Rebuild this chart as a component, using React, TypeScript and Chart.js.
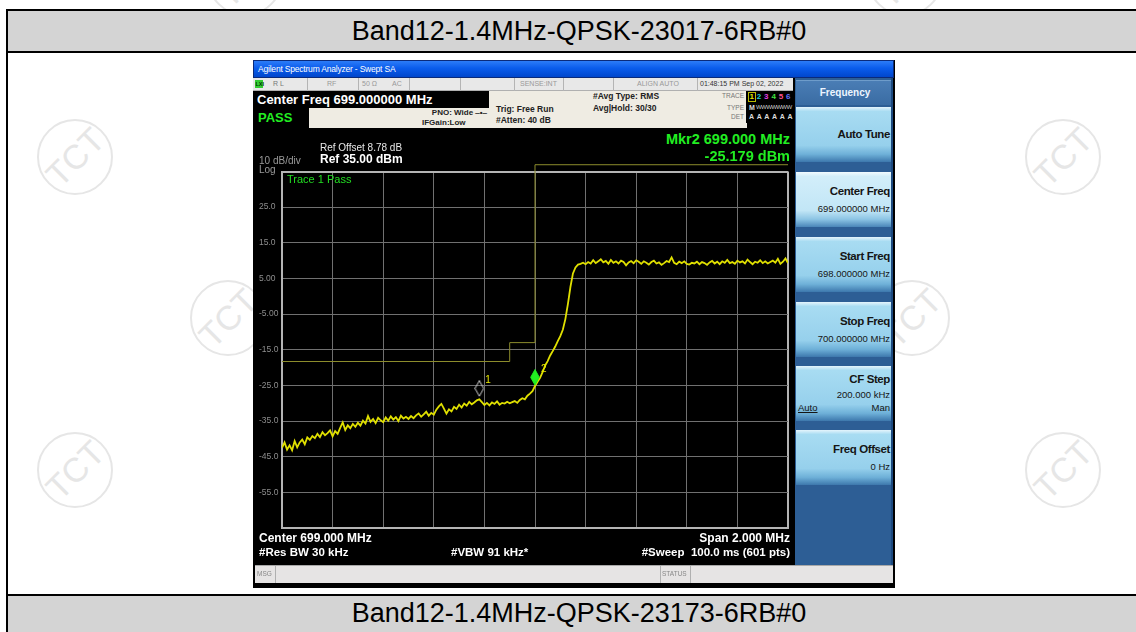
import React, { useEffect, useRef } from "react";
import { Chart, registerables } from "chart.js";

Chart.register(...registerables);

const FONT = '"Liberation Sans", Arial, Helvetica, sans-serif';

// ---- sweep settings ----
const startFreqMHz = 698.0;
const stopFreqMHz = 700.0;
const traceStepMHz = 0.01;
const refLevelDbm = 35;
const bottomLevelDbm = -65;
const dbPerDiv = 10;
const freqPerDivMHz = 0.2;

// ---- trace 1 (dBm), one value per 10 kHz ----
const traceDbm = [
  -42.5, -41.0, -43.0, -41.8, -43.2, -40.6, -42.4, -41.0, -40.2, -41.5,
  -39.6, -40.3, -39.2, -39.8, -38.6, -39.5, -38.1, -39.0, -38.4, -37.6,
  -39.3, -37.8, -38.6, -36.9, -35.4, -37.5, -36.2, -37.0, -35.8, -36.6,
  -35.5, -36.3, -34.9, -35.7, -33.6, -35.2, -34.4, -35.6, -34.1, -34.8,
  -35.3, -34.0, -34.9, -33.7, -34.6, -33.9, -35.0, -33.5, -34.3, -33.8,
  -34.4, -33.6, -34.2, -33.4, -32.9, -33.8, -33.1, -32.4, -33.5, -32.7,
  -33.2, -31.8, -30.9, -30.2, -31.5, -32.9, -31.7, -32.3, -31.0, -31.6,
  -30.4, -31.2, -30.1, -30.7, -29.6, -30.3, -29.8, -29.2, -28.9, -29.7,
  -30.5, -29.9, -30.6, -29.8, -30.2, -29.5, -30.4, -29.9, -30.1, -29.6,
  -30.0, -29.7, -29.4, -29.9, -29.1, -28.6, -28.9, -27.9, -27.3, -26.6,
  -25.18, -24.0, -22.9, -21.3, -19.4, -18.2, -16.6, -15.4, -14.1, -12.6,
  -11.2, -9.4, -6.4, -2.2, 2.6, 6.4, 8.1, 8.9, 9.1, 9.4,
  9.0, 9.6, 9.2, 10.1, 9.3, 9.8, 10.4, 9.5, 9.9, 9.1,
  10.2, 9.4, 9.8, 9.2, 10.0, 9.6, 8.7, 9.5, 9.9, 9.3,
  10.1, 9.7, 9.1, 9.8, 9.4, 8.9, 9.6, 10.0, 9.2, 9.5,
  8.8, 9.3, 9.9, 9.6, 10.9, 9.4, 9.0, 9.7, 9.3, 9.8,
  9.1, 8.9, 9.4, 9.2, 9.7, 9.0, 9.6, 9.3, 8.8, 9.5,
  9.9, 9.2, 9.7, 9.0, 9.8, 9.4, 10.2, 9.3, 9.6, 9.1,
  10.0, 9.5, 9.8, 9.2, 10.3, 9.6, 9.0, 9.7, 9.4, 10.1,
  9.3, 9.8, 9.2, 9.6, 10.0, 9.4, 10.5, 9.1, 9.7, 10.6,
  9.3,
];

// ---- limit line ----
const limitFreqMHz = [698.0, 698.9, 698.9, 699.0, 699.0, 700.0];
const limitDbm = [-18.3, -18.3, -13.0, -13.0, 36.9, 36.9];

// ---- markers ----
const markerFreqMHz = [698.78, 699.0];
const markerDbm = [-28.3, -25.179];
const markerLabels = ["1", "2"];

// ---- y tick labels ----
const yTickValues = [25, 15, 5, -5, -15, -25, -35, -45, -55];
const yTickLabels = ["25.0", "15.0", "5.00", "-5.00", "-15.0", "-25.0", "-35.0", "-45.0", "-55.0"];

function makeDiamond(fill: string | null, stroke: string) {
  const c = document.createElement("canvas");
  c.width = 10;
  c.height = 34;
  const g = c.getContext("2d")!;
  g.beginPath();
  g.moveTo(5, 0.5);
  g.lineTo(9.3, 8.3);
  g.lineTo(5, 16);
  g.lineTo(0.7, 8.3);
  g.closePath();
  if (fill) {
    g.fillStyle = fill;
    g.fill();
  }
  g.strokeStyle = stroke;
  g.lineWidth = 1;
  g.stroke();
  return c;
}

function SpectrumChart() {
  const ref = useRef<HTMLCanvasElement>(null);
  useEffect(() => {
    const canvas = ref.current!;
    const tracePts = traceDbm.map((v, i) => ({
      x: +(startFreqMHz + i * traceStepMHz).toFixed(2),
      y: v,
    }));
    const limitPts = limitFreqMHz.map((f, i) => ({ x: f, y: limitDbm[i] }));
    const markerPts = markerFreqMHz.map((f, i) => ({ x: f, y: markerDbm[i] }));
    const diamonds = [makeDiamond(null, "#d0d0d0"), makeDiamond("#22ee22", "#22ee22")];

    const labelPlugin = {
      id: "markerLabels",
      afterDatasetsDraw(chart: any) {
        const meta = chart.getDatasetMeta(2);
        const ctx = chart.ctx;
        ctx.save();
        ctx.fillStyle = "#e8e800";
        ctx.font = `10px ${FONT}`;
        ctx.textAlign = "left";
        ctx.textBaseline = "middle";
        meta.data.forEach((pt: any, i: number) => {
          ctx.fillText(markerLabels[i], pt.x + 6, pt.y - 17);
        });
        ctx.restore();
      },
    };

    const frame = "#b4b4b4";
    const gridC = "#707070";

    const chart = new Chart(canvas, {
      type: "line",
      data: {
        datasets: [
          {
            label: "Limit",
            data: limitPts,
            borderColor: "#8c8c2c",
            borderWidth: 1,
            pointRadius: 0,
            clip: false as any,
            order: 3,
          },
          {
            label: "Trace 1",
            data: tracePts,
            borderColor: "#e0e000",
            borderWidth: 1.8,
            pointRadius: 0,
            order: 2,
          },
          {
            label: "Markers",
            data: markerPts,
            showLine: false,
            pointRadius: 5,
            pointStyle: ((ctx: any) => diamonds[ctx.dataIndex]) as any,
            order: 1,
          },
        ],
      },
      options: {
        responsive: false,
        animation: false,
        events: [],
        devicePixelRatio: 1,
        layout: { padding: { left: 5, top: 11.5, right: 3, bottom: 8 } },
        plugins: { legend: { display: false }, tooltip: { enabled: false } },
        scales: {
          x: {
            type: "linear",
            min: startFreqMHz,
            max: stopFreqMHz,
            ticks: { display: false, stepSize: freqPerDivMHz },
            grid: {
              drawTicks: false,
              color: (c: any) => (Math.abs(c.tick.value - stopFreqMHz) < 1e-6 ? frame : gridC),
              lineWidth: (c: any) => (Math.abs(c.tick.value - stopFreqMHz) < 1e-6 ? 2 : 1),
            },
            border: { color: frame, width: 2 },
            afterFit: (s: any) => {
              s.height = 0;
            },
          },
          y: {
            type: "linear",
            min: bottomLevelDbm,
            max: refLevelDbm,
            ticks: {
              stepSize: dbPerDiv,
              color: "#8e8e8e",
              font: { size: 8.5, family: FONT },
              crossAlign: "far",
              padding: 0,
              callback: (v: any) => {
                const k = yTickValues.indexOf(Math.round(Number(v)));
                return k >= 0 ? yTickLabels[k] : "";
              },
            },
            grid: {
              drawTicks: false,
              color: (c: any) => (c.tick.value === refLevelDbm ? frame : gridC),
              lineWidth: (c: any) => (c.tick.value === refLevelDbm ? 2 : 1),
            },
            border: { color: frame, width: 2 },
            afterFit: (s: any) => {
              s.width = 23;
            },
          },
        },
      },
      plugins: [labelPlugin],
    } as any);
    return () => chart.destroy();
  }, []);
  return (
    <canvas
      ref={ref}
      width={540}
      height={376}
      style={{ position: "absolute", left: 254, top: 160, width: 540, height: 376 }}
    />
  );
}

function T(props: any) {
  const { x, y, s, c = "#fff", b = false, a = "left", ls, children, u } = props;
  const style: any = {
    position: "absolute",
    top: y - s * 0.6,
    lineHeight: `${s * 1.2}px`,
    fontSize: s,
    color: c,
    fontWeight: b ? "bold" : "normal",
    whiteSpace: "nowrap",
    fontFamily: FONT,
    letterSpacing: ls,
    textDecoration: u ? "underline" : "none",
  };
  if (a === "left") style.left = x;
  else if (a === "right") style.right = 1136 - x;
  else {
    style.left = x;
    style.transform = "translateX(-50%)";
  }
  return <div style={style}>{children}</div>;
}

function Box(props: any) {
  const { x, y, w, h, bg, style } = props;
  return <div style={{ position: "absolute", left: x, top: y, width: w, height: h, background: bg, ...style }} />;
}

const watermarkCenters = [
  [75, 157],
  [75, 470],
  [1063, 157],
  [1063, 470],
  [228, 318],
  [912, 318],
  [245, -22],
  [905, -22],
];

function Watermark({ cx, cy }: any) {
  return (
    <div
      style={{
        position: "absolute",
        left: cx - 38,
        top: cy - 38,
        width: 76,
        height: 76,
        borderRadius: "50%",
        border: "2.5px solid #e6e6e6",
        boxSizing: "border-box",
        display: "flex",
        alignItems: "center",
        justifyContent: "center",
      }}
    >
      <div style={{ transform: "rotate(-45deg)", fontSize: 34, color: "#e6e6e6", fontFamily: FONT, lineHeight: "34px" }}>
        TCT
      </div>
    </div>
  );
}

const softkeys = [
  { top: 107, title: "Auto Tune", sub: "", hi: false },
  { top: 172, title: "Center Freq", sub: "699.000000 MHz", hi: true },
  { top: 237, title: "Start Freq", sub: "698.000000 MHz", hi: false },
  { top: 302, title: "Stop Freq", sub: "700.000000 MHz", hi: false },
  { top: 366, title: "CF Step", sub: "200.000 kHz", hi: false },
  { top: 430, title: "Freq Offset", sub: "0 Hz", hi: false },
];

export default function App() {
  const statusDividers = [307, 358, 409, 460, 514, 563, 613, 697];
  const traceNums = [
    ["1", "#e8e800"],
    ["2", "#20d0d0"],
    ["3", "#e040e0"],
    ["4", "#40e040"],
    ["5", "#ff5090"],
    ["6", "#6070ff"],
  ];
  return (
    <div
      style={{
        position: "absolute",
        left: 0,
        top: 0,
        width: 1136,
        height: 632,
        overflow: "hidden",
        background: "#fff",
        fontFamily: FONT,
      }}
    >
      {watermarkCenters.map(([cx, cy], i) => (
        <Watermark key={i} cx={cx} cy={cy} />
      ))}

      {/* document table */}
      <Box x={6} y={9} w={1200} h={2} bg="#000" />
      <Box x={6} y={9} w={2} h={700} bg="#000" />
      <Box x={8} y={11} w={1200} h={40} bg="#d4d4d4" />
      <Box x={8} y={51} w={1200} h={2} bg="#000" />
      <Box x={8} y={594} w={1200} h={2} bg="#000" />
      <Box x={8} y={596} w={1200} h={40} bg="#d4d4d4" />
      <div
        style={{
          position: "absolute",
          left: 8,
          top: 11,
          width: 1142,
          height: 40,
          display: "flex",
          alignItems: "center",
          justifyContent: "center",
          fontSize: 27,
          color: "#000",
        }}
      >
        Band12-1.4MHz-QPSK-23017-6RB#0
      </div>
      <div
        style={{
          position: "absolute",
          left: 8,
          top: 596,
          width: 1142,
          height: 35,
          display: "flex",
          alignItems: "center",
          justifyContent: "center",
          fontSize: 27,
          color: "#000",
        }}
      >
        Band12-1.4MHz-QPSK-23173-6RB#0
      </div>

      {/* analyzer screen */}
      <Box x={253} y={60} w={642} h={528} bg="#000" />
      {/* title bar */}
      <Box
        x={253}
        y={60}
        w={641}
        h={18}
        bg="linear-gradient(#2c7cf8, #0a5cec 45%, #0046cc)"
        style={{ border: "1px solid #0a2a7a", boxSizing: "border-box" }}
      />
      <T x={258} y={69.5} s={8.5} c="#ffffff" ls={-0.2}>
        Agilent Spectrum Analyzer - Swept SA
      </T>

      {/* status row */}
      <Box x={253} y={78} w={540} h={13} bg="#e8e8e8" style={{ borderBottom: "1px solid #b0b0b0", boxSizing: "border-box" }} />
      {statusDividers.map((x) => (
        <Box key={x} x={x} y={78} w={1} h={13} bg="#b4b4b4" />
      ))}
      <Box x={255} y={80} w={8} h={8} bg="#33cc33" />
      <T x={255.5} y={84} s={5.5} c="#003300" b>
        LXI
      </T>
      <T x={273} y={84.5} s={7} c="#777">R L</T>
      <T x={327} y={84.5} s={7} c="#999">RF</T>
      <T x={362} y={84.5} s={7} c="#999">50 Ω</T>
      <T x={392} y={84.5} s={7} c="#999">AC</T>
      <T x={520} y={84.5} s={7} c="#999">SENSE:INT</T>
      <T x={637} y={84.5} s={7} c="#999">ALIGN AUTO</T>
      <T x={700} y={84.5} s={7} c="#333">01:48:15 PM Sep 02, 2022</T>

      {/* info area */}
      <Box x={253} y={91} w={494} h={37} bg="#efece3" />
      <Box x={253} y={91} w={236} h={17} bg="#000" />
      <T x={257} y={99.5} s={13} b c="#ffffff">
        Center Freq 699.000000 MHz
      </T>
      <Box x={253} y={108} w={56} h={20} bg="#000" />
      <T x={258} y={118} s={13} b c="#22ee22">
        PASS
      </T>
      <T x={487} y={112.5} s={8} b c="#222" a="right">
        PNO: Wide ‒•‒
      </T>
      <T x={422} y={122.5} s={8} b c="#222">
        IFGain:Low
      </T>
      <T x={496} y={109} s={8.5} b c="#222">
        Trig: Free Run
      </T>
      <T x={496} y={120} s={8.5} b c="#222">
        #Atten: 40 dB
      </T>
      <T x={593} y={96.5} s={8.5} b c="#222">
        #Avg Type: RMS
      </T>
      <T x={593} y={108} s={8.5} b c="#222">
        Avg|Hold: 30/30
      </T>
      <T x={744} y={96} s={6.5} c="#777" a="right">TRACE</T>
      <T x={744} y={107.5} s={6.5} c="#777" a="right">TYPE</T>
      <T x={744} y={117} s={6.5} c="#777" a="right">DET</T>
      <Box x={746} y={91} w={47} h={32} bg="#000" />
      <Box x={748} y={92} w={8} h={10} bg="transparent" style={{ border: "1px solid #b8b800", boxSizing: "border-box" }} />
      {traceNums.map(([n, col], i) => (
        <T key={n} x={749.5 + i * 7.3} y={97} s={8} b c={col}>
          {n}
        </T>
      ))}
      <T x={749} y={108} s={7} b c="#ddd">
        M
      </T>
      <T x={756} y={108} s={6} c="#ccc" ls={-0.6}>
        WWWWWWW
      </T>
      <T x={749} y={117.5} s={7} b c="#ddd" ls={0.6}>
        A A A A A A
      </T>

      {/* chart */}
      <SpectrumChart />

      {/* readouts over the screen */}
      <T x={790} y={140} s={14.5} b c="#22ee22" a="right">
        Mkr2 699.000 MHz
      </T>
      <T x={790} y={156.5} s={14.5} b c="#22ee22" a="right">
        -25.179 dBm
      </T>
      <T x={320} y={148} s={10} c="#e8e8e8">
        Ref Offset 8.78 dB
      </T>
      <T x={320} y={159.5} s={12} b c="#ffffff">
        Ref 35.00 dBm
      </T>
      <T x={259} y={160.5} s={10} c="#9a9a9a">
        10 dB/div
      </T>
      <T x={259} y={169.5} s={10} c="#9a9a9a">
        Log
      </T>
      <T x={287} y={180} s={11} c="#22dd22">
        Trace 1 Pass
      </T>

      <T x={259} y={538} s={12} b c="#ffffff">
        Center 699.000 MHz
      </T>
      <T x={259} y={553} s={11.5} b c="#ffffff">
        #Res BW 30 kHz
      </T>
      <T x={451} y={553} s={11.5} b c="#ffffff">
        #VBW 91 kHz*
      </T>
      <T x={790} y={538} s={12} b c="#ffffff" a="right">
        Span 2.000 MHz
      </T>
      <T x={790} y={553} s={11.5} b c="#ffffff" a="right">
        #Sweep&nbsp;&nbsp;100.0 ms (601 pts)
      </T>

      {/* right softkey panel */}
      <Box x={795} y={78} w={98} h={487} bg="#2d5e95" style={{ borderRight: "2px solid #1d4a80", boxSizing: "border-box" }} />
      <Box
        x={796}
        y={80}
        w={95}
        h={25}
        bg="linear-gradient(#4a7db5, #3a6ca3)"
        style={{ borderTop: "1px solid #6e9cca", boxSizing: "border-box" }}
      />
      <T x={845} y={93} s={10} b c="#eef6ff" a="center">
        Frequency
      </T>
      {softkeys.map((k) => (
        <Box
          key={k.title}
          x={796}
          y={k.top}
          w={95}
          h={55}
          bg={
            k.hi
              ? "linear-gradient(#f2fbff 0%, #d2eefa 8%, #c2e6f6 70%, #8cc4e4 86%, #4a86b8 100%)"
              : "linear-gradient(#e4f4fc 0%, #a8dcf2 8%, #96d0ec 70%, #6eb0d8 86%, #3d78ad 100%)"
          }
        />
      ))}
      <T x={890} y={134.5} s={11.5} b c="#151515" a="right" ls={-0.4}>
        Auto Tune
      </T>
      <T x={890} y={191.5} s={11.5} b c="#151515" a="right" ls={-0.4}>
        Center Freq
      </T>
      <T x={890} y={208.5} s={9.5} c="#151515" a="right">
        699.000000 MHz
      </T>
      <T x={890} y={256.5} s={11.5} b c="#151515" a="right" ls={-0.4}>
        Start Freq
      </T>
      <T x={890} y={273.5} s={9.5} c="#151515" a="right">
        698.000000 MHz
      </T>
      <T x={890} y={321.5} s={11.5} b c="#151515" a="right" ls={-0.4}>
        Stop Freq
      </T>
      <T x={890} y={338.5} s={9.5} c="#151515" a="right">
        700.000000 MHz
      </T>
      <T x={890} y={380} s={11.5} b c="#151515" a="right" ls={-0.4}>
        CF Step
      </T>
      <T x={890} y={395} s={9.5} c="#151515" a="right">
        200.000 kHz
      </T>
      <T x={798} y={408} s={9.5} c="#151515" u>
        Auto
      </T>
      <T x={890} y={408} s={9.5} c="#151515" a="right">
        Man
      </T>
      <T x={890} y={450} s={11.5} b c="#151515" a="right" ls={-0.4}>
        Freq Offset
      </T>
      <T x={890} y={467} s={9.5} c="#151515" a="right">
        0 Hz
      </T>

      {/* message bar */}
      <Box x={255} y={565} w={638} h={18} bg="#e6e4e4" style={{ borderTop: "1px solid #a8a8a8", boxSizing: "border-box" }} />
      <Box x={275} y={566} w={1} h={17} bg="#b0b0b0" />
      <Box x={660} y={566} w={1} h={17} bg="#b0b0b0" />
      <Box x={690} y={566} w={1} h={17} bg="#b0b0b0" />
      <T x={257} y={574} s={6.5} c="#888">MSG</T>
      <T x={662} y={574} s={6.5} c="#888">STATUS</T>
    </div>
  );
}
